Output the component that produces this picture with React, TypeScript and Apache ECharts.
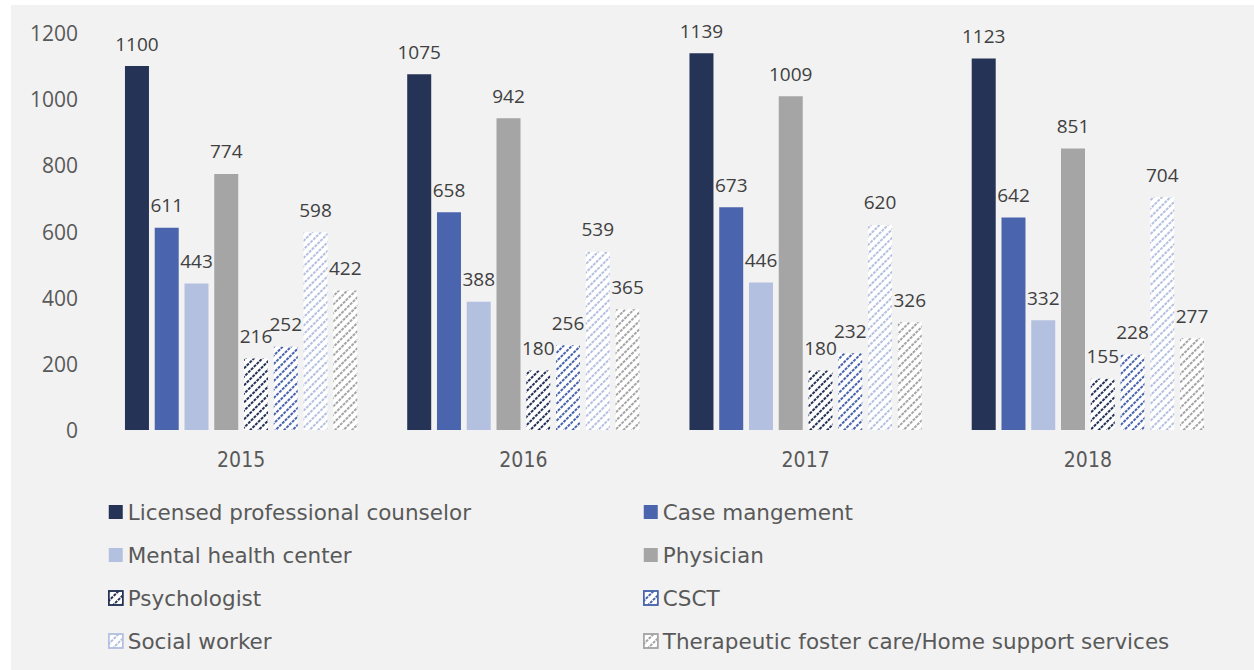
import React, { useEffect, useRef } from "react";
import * as echarts from "echarts";

const years = ["2015", "2016", "2017", "2018"];
const seriesNames = [
  "Licensed professional counselor",
  "Case mangement",
  "Mental health center",
  "Physician",
  "Psychologist",
  "CSCT",
  "Social worker",
  "Therapeutic foster care/Home support services",
];
const licensed = [1100, 1075, 1139, 1123];
const caseMgmt = [611, 658, 673, 642];
const mental = [443, 388, 446, 332];
const physician = [774, 942, 1009, 851];
const psychologist = [216, 180, 180, 155];
const csct = [252, 256, 232, 228];
const social = [598, 539, 620, 704];
const therapeutic = [422, 365, 326, 277];
const yTicks = [0, 200, 400, 600, 800, 1000, 1200];

const values = [licensed, caseMgmt, mental, physician, psychologist, csct, social, therapeutic];
const colors = ["#243356", "#4a65ad", "#b4c0df", "#a5a5a5", "#243356", "#4a65ad", "#b4c0df", "#a5a5a5"];
const patterned = [false, false, false, false, true, true, true, true];

const condFont = "'DejaVu Sans Condensed', 'DejaVu Sans', sans-serif";
const legendFont = "'DejaVu Sans', sans-serif";
const numFont = "'Open Sans', 'Noto Sans', sans-serif";

export default function App() {
  const ref = useRef<HTMLDivElement>(null);
  useEffect(() => {
    document.body.style.margin = "0";
    const chart = echarts.init(ref.current!, undefined, { renderer: "svg" });
    const series = seriesNames.map((name, i) => ({
      name,
      type: "bar",
      data: values[i],
      barWidth: 24,
      barGap: "24%",
      itemStyle: patterned[i]
        ? {
            color: "#ffffff",
            decal: {
              symbol: "rect",
              symbolSize: 1,
              color: colors[i],
              dashArrayX: [[3, 1]],
              dashArrayY: [2, 3.6],
              rotation: -Math.PI / 4,
            },
          }
        : { color: colors[i] },
      label: {
        show: true,
        position: "top",
        distance: 13,
        color: "#404040",
        fontSize: 19,
        fontFamily: numFont,
      },
    }));
    const legendItem = (name: string) => {
      const i = seriesNames.indexOf(name);
      return patterned[i]
        ? { name, itemStyle: { borderColor: colors[i], borderWidth: 1.5 } }
        : { name };
    };
    const legendCommon = {
      orient: "vertical",
      top: 501,
      padding: 0,
      itemWidth: 14,
      itemHeight: 14,
      itemGap: 21,
      icon: "rect",
      selectedMode: false,
      textStyle: { color: "#595959", fontSize: 21.5, fontFamily: legendFont, lineHeight: 22 },
    };
    chart.setOption({
      animation: false,
      backgroundColor: "#ffffff",
      graphic: [
        {
          type: "rect",
          silent: true,
          z: -10,
          shape: { x: 11, y: 5, width: 1243, height: 665 },
          style: { fill: "#f2f2f2" },
        },
      ],
      grid: { left: 100, right: 25, top: 33, bottom: 240, containLabel: false },
      legend: [
        {
          ...legendCommon,
          left: 108,
          data: [seriesNames[0], seriesNames[2], seriesNames[4], seriesNames[6]].map(legendItem),
        },
        {
          ...legendCommon,
          left: 643,
          data: [seriesNames[1], seriesNames[3], seriesNames[5], seriesNames[7]].map(legendItem),
        },
      ],
      xAxis: {
        type: "category",
        data: years,
        axisLine: { show: false },
        axisTick: { show: false },
        axisLabel: { color: "#595959", fontSize: 21, fontFamily: condFont, margin: 19 },
      },
      yAxis: {
        type: "value",
        min: yTicks[0],
        max: yTicks[yTicks.length - 1],
        interval: 200,
        splitLine: { show: false },
        axisLine: { show: false },
        axisTick: { show: false },
        axisLabel: {
          color: "#595959",
          fontSize: 21,
          fontFamily: numFont,
          margin: 22,
          formatter: (v: number) => String(v),
        },
      },
      series,
    });
    return () => chart.dispose();
  }, []);
  return <div ref={ref} style={{ width: 1254, height: 670 }} />;
}
